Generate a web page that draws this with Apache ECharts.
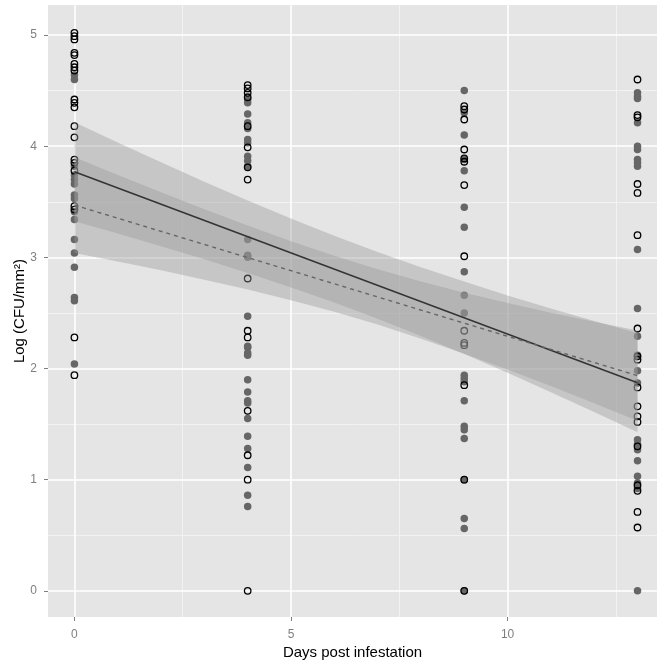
<!DOCTYPE html>
<html><head><meta charset="utf-8">
<script src="https://cdn.jsdelivr.net/npm/echarts@6/dist/echarts.min.js"></script>
<style>html,body{margin:0;padding:0;background:#fff}#c{width:669px;height:668px}</style>
</head><body><div id="c"></div>
<script>
// ---- data ----
const xTicks = [0, 5, 10];
const xMinor = [2.5, 7.5, 12.5];
const yTicks = [0, 1, 2, 3, 4, 5];
const yMinor = [0.5, 1.5, 2.5, 3.5, 4.5];

const openDay0 = [5.02, 4.99, 4.96, 4.84, 4.82, 4.74, 4.71, 4.68, 4.42, 4.39, 4.35, 4.18, 4.08, 3.88, 3.85, 3.78, 3.46, 3.43, 2.28, 1.94];
const filledDay0 = [4.64, 4.60, 3.82, 3.74, 3.70, 3.66, 3.56, 3.53, 3.41, 3.34, 3.16, 3.04, 2.91, 2.64, 2.61, 2.04];
const openDay4 = [4.55, 4.52, 4.48, 4.44, 4.18, 3.99, 3.81, 3.70, 2.81, 2.34, 2.28, 1.62, 1.22, 1.00, 0.00];
const filledDay4 = [4.42, 4.39, 4.29, 4.21, 4.16, 4.06, 4.03, 3.91, 3.87, 3.82, 3.16, 3.02, 3.00, 2.47, 2.20, 2.19, 2.14, 2.12, 1.90, 1.79, 1.71, 1.69, 1.55, 1.39, 1.28, 1.11, 0.86, 0.76];
const openDay9 = [4.36, 4.33, 4.24, 3.97, 3.89, 3.86, 3.65, 3.01, 2.34, 2.23, 2.21, 1.85, 1.00, 0.00];
const filledDay9 = [4.50, 4.30, 4.10, 3.88, 3.78, 3.45, 3.27, 2.87, 2.66, 2.50, 1.94, 1.91, 1.88, 1.71, 1.48, 1.45, 1.37, 1.00, 0.65, 0.56, 0.00];
const openDay13 = [4.60, 4.28, 4.26, 3.66, 3.58, 3.20, 2.36, 2.11, 2.08, 1.83, 1.66, 1.57, 1.52, 1.30, 0.95, 0.90, 0.71, 0.57];
const filledDay13 = [4.48, 4.45, 4.43, 4.21, 4.00, 3.97, 3.88, 3.85, 3.82, 3.07, 2.54, 2.29, 2.12, 1.98, 1.87, 1.36, 1.32, 1.27, 1.17, 1.03, 0.97, 0.92, 0.00];

const fitSolidX = [0, 13];
const fitSolidY = [3.77, 1.872];
const fitDashX = [0, 13];
const fitDashY = [3.47, 1.936];

const bandX = [0, 1, 2, 3, 4, 5, 6, 7, 8, 9, 10, 11, 12, 13];
const solidLower = [3.325, 3.215, 3.101, 2.984, 2.860, 2.730, 2.593, 2.447, 2.292, 2.130, 1.962, 1.787, 1.609, 1.427];
const solidUpper = [4.215, 4.033, 3.855, 3.680, 3.512, 3.350, 3.195, 3.049, 2.912, 2.782, 2.658, 2.541, 2.427, 2.317];
const dashLower = [3.040, 2.963, 2.883, 2.799, 2.710, 2.614, 2.510, 2.395, 2.269, 2.134, 1.991, 1.842, 1.688, 1.531];
const dashUpper = [3.900, 3.741, 3.585, 3.433, 3.286, 3.146, 3.014, 2.893, 2.783, 2.682, 2.589, 2.502, 2.420, 2.341];

// ---- build ----
const pts = (x, arr) => arr.map(v => [x, v]);
const openData = [].concat(pts(0, openDay0), pts(4, openDay4), pts(9, openDay9), pts(13, openDay13));
const filledData = [].concat(pts(0, filledDay0), pts(4, filledDay4), pts(9, filledDay9), pts(13, filledDay13));

function bandSeries(lower, upper) {
  return {
    type: 'custom', z: 4, silent: true,
    data: [[0]],
    renderItem: function (params, api) {
      const poly = [];
      for (let i = 0; i < bandX.length; i++) poly.push(api.coord([bandX[i], upper[i]]));
      for (let i = bandX.length - 1; i >= 0; i--) poly.push(api.coord([bandX[i], lower[i]]));
      return { type: 'polygon', shape: { points: poly }, style: { fill: 'rgba(153,153,153,0.4)', stroke: 'none' } };
    }
  };
}

const gridLine = (axis, vals, color, w) => vals.map(v => ({ [axis]: v, lineStyle: { color: color, width: w, type: 'solid' } }));

const chart = echarts.init(document.getElementById('c'), null, { renderer: 'canvas' });
const font = 'Liberation Sans, Arial, sans-serif';
chart.setOption({
  animation: false,
  backgroundColor: '#ffffff',
  textStyle: { fontFamily: font },
  grid: { left: 48, right: 12, top: 5, bottom: 51, show: true, backgroundColor: '#E5E5E5', borderWidth: 0, outerBoundsMode: 'none', containLabel: false },
  xAxis: {
    type: 'value', min: -0.61, max: 13.45,
    name: 'Days post infestation', nameLocation: 'middle', nameGap: 28, nameMoveOverlap: false,
    nameTextStyle: { color: '#000', fontSize: 15, fontFamily: font },
    axisLine: { show: true, onZero: false, lineStyle: { color: 'rgba(0,0,0,0)', width: 0 } },
    axisTick: { show: true, inside: false, customValues: xTicks, length: 4, lineStyle: { color: '#7F7F7F', width: 1 } },
    axisLabel: { customValues: xTicks, color: '#7F7F7F', fontSize: 12, margin: 12, fontFamily: font },
    splitLine: { show: false }
  },
  yAxis: {
    type: 'value', min: -0.235, max: 5.27,
    name: 'Log (CFU/mm²)', nameLocation: 'middle', nameGap: 21, nameRotate: 90, nameMoveOverlap: false,
    nameTextStyle: { color: '#000', fontSize: 15, fontFamily: font },
    axisLine: { show: true, onZero: false, lineStyle: { color: 'rgba(0,0,0,0)', width: 0 } },
    axisTick: { show: true, inside: false, customValues: yTicks, length: 4, lineStyle: { color: '#7F7F7F', width: 1 } },
    axisLabel: { customValues: yTicks, color: '#7F7F7F', fontSize: 12, margin: 11, fontFamily: font },
    splitLine: { show: false }
  },
  series: [
    {
      type: 'scatter', data: [], z: 1, silent: true,
      markLine: {
        silent: true, symbol: ['none', 'none'], label: { show: false }, z: 1, animation: false,
        data: [].concat(
          gridLine('xAxis', xMinor, '#F2F2F2', 1),
          gridLine('yAxis', yMinor, '#F2F2F2', 1),
          gridLine('xAxis', xTicks, '#FFFFFF', 1.6),
          gridLine('yAxis', yTicks, '#FFFFFF', 1.6)
        )
      }
    },
    {
      type: 'scatter', data: filledData, z: 2, symbol: 'circle', symbolSize: 7.5,
      itemStyle: { color: '#666666', opacity: 1 }
    },
    {
      type: 'scatter', data: openData, z: 3, symbol: 'circle', symbolSize: 6.5,
      itemStyle: { color: 'rgba(0,0,0,0)', borderColor: '#000000', borderWidth: 1.3, opacity: 1 }
    },
    bandSeries(solidLower, solidUpper),
    bandSeries(dashLower, dashUpper),
    {
      type: 'line', z: 6, symbol: 'none', silent: true,
      data: fitSolidX.map((x, i) => [x, fitSolidY[i]]),
      lineStyle: { color: '#333333', width: 1.4, type: 'solid' }
    },
    {
      type: 'line', z: 6, symbol: 'none', silent: true,
      data: fitDashX.map((x, i) => [x, fitDashY[i]]),
      lineStyle: { color: '#666666', width: 1.4, type: [4, 4] }
    }
  ]
});
</script>
</body></html>
